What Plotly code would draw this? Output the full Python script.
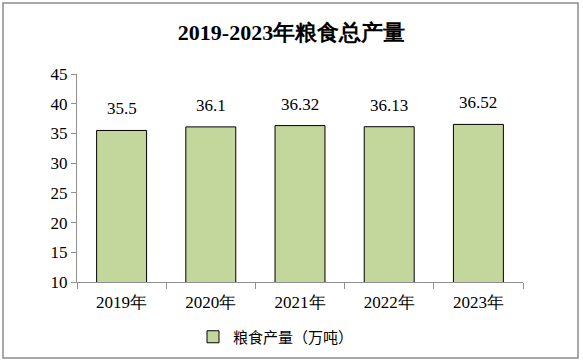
import plotly.graph_objects as go

categories = ["2019年", "2020年", "2021年", "2022年", "2023年"]
values = [35.5, 36.1, 36.32, 36.13, 36.52]
labels = ["35.5", "36.1", "36.32", "36.13", "36.52"]
series_name = "粮食产量（万吨）"
title = "2019-2023年粮食总产量"

serif = "Liberation Serif, serif"

fig = go.Figure()
fig.add_trace(go.Bar(
    x=categories, y=values, name=series_name,
    marker=dict(color="#c3d69b", line=dict(color="#000000", width=1)),
    width=0.56, showlegend=True,
))

for c, v, t in zip(categories, values, labels):
    fig.add_annotation(x=c, y=v, text=t, showarrow=False, yanchor="bottom",
                       yshift=10, font=dict(family=serif, size=17, color="#000"))

fig.update_layout(
    width=583, height=364,
    margin=dict(l=77, r=60, t=74, b=82, autoexpand=False),
    paper_bgcolor="white", plot_bgcolor="white",
    title=dict(text="<b>" + title + "</b>", x=0.5, xanchor="center", y=0.912, yanchor="middle",
               font=dict(family=serif, size=22, color="#000")),
    showlegend=True,
    legend=dict(orientation="h", x=(193 - 77) / 446, xanchor="left", y=(282 - 337) / 208,
                yanchor="middle",
                font=dict(family="Noto Sans CJK SC, sans-serif", size=15, color="#000")),
    xaxis=dict(type="category", showline=True, linecolor="#909090", linewidth=1,
               ticks="outside", tickson="boundaries", ticklen=6, tickcolor="#909090",
               ticklabelstandoff=5,
               tickfont=dict(family=serif, size=17, color="#000"), showgrid=False,
               automargin=False),
    yaxis=dict(range=[10, 45], dtick=5, showline=True, linecolor="#909090", linewidth=1,
               ticks="outside", ticklen=5, tickcolor="#909090", showgrid=False,
               zeroline=False, automargin=False,
               tickfont=dict(family=serif, size=17, color="#000")),
    shapes=[dict(type="rect", xref="paper", yref="paper",
                 x0=(3 - 77) / 446, x1=(578 - 77) / 446,
                 y0=(282 - 358) / 208, y1=(282 - 3) / 208,
                 line=dict(color="#8c8c8c", width=1.5), layer="below")],
)

fig.write_html("out.html", config={"displayModeBar": False},
               post_script="document.body.style.margin='0';document.body.style.overflow='hidden';")
